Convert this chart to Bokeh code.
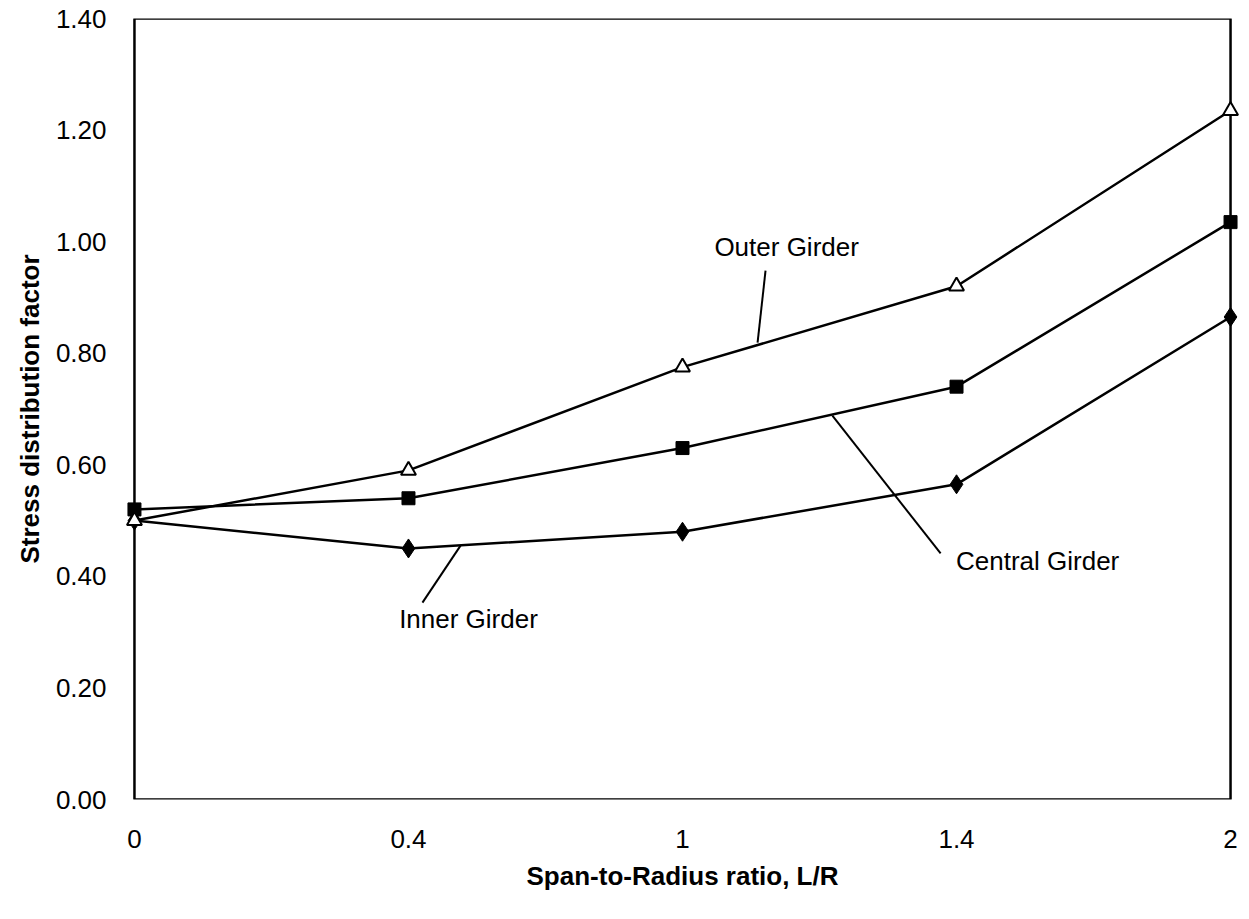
from bokeh.plotting import figure
from bokeh.models import Range1d, FixedTicker, NumeralTickFormatter, ColumnDataSource, Label, BoxAnnotation
from bokeh.embed import file_html
from bokeh.resources import INLINE

# ---- data ----
categories = ["0", "0.4", "1", "1.4", "2"]
outer = [0.50, 0.59, 0.775, 0.92, 1.235]
central = [0.52, 0.54, 0.63, 0.74, 1.035]
inner = [0.50, 0.45, 0.48, 0.565, 0.865]

y_ticks = [0.0, 0.2, 0.4, 0.6, 0.8, 1.0, 1.2, 1.4]

# annotation labels (text, x, y) and leader lines (x0, y0, x1, y1)
ann_text = ["Outer Girder", "Central Girder", "Inner Girder"]
ann_x = [2.38, 3.296, 1.219]
ann_y = [0.990, 0.428, 0.324]
lead_x0 = [2.303, 2.547, 1.190]
lead_y0 = [0.948, 0.688, 0.455]
lead_x1 = [2.274, 2.942, 1.051]
lead_y1 = [0.819, 0.441, 0.353]

FONT = "Liberation Sans"
PAD = 0.04

xs = list(range(len(categories)))

p = figure(frame_width=1118, frame_height=781, output_backend="svg",
           toolbar_location=None, min_border_left=123, min_border_right=0,
           min_border_top=18, min_border_bottom=100,
           x_range=Range1d(-PAD, len(categories) - 1 + PAD), y_range=Range1d(0, 1.4))

p.background_fill_color = "white"
p.border_fill_color = "white"
p.outline_line_color = None
p.xgrid.visible = False
p.ygrid.visible = False

# plot frame drawn at the data limits so edge markers are not clipped
p.add_layout(BoxAnnotation(left=0, right=len(categories) - 1, bottom=0, top=1.4,
                           fill_alpha=0, line_color="black", line_alpha=1.0,
                           line_width=2.5, level="underlay"))

# axes
p.xaxis.ticker = FixedTicker(ticks=xs)
p.xaxis.major_label_overrides = {i: c for i, c in zip(xs, categories)}
p.yaxis.ticker = FixedTicker(ticks=y_ticks)
p.yaxis.formatter = NumeralTickFormatter(format="0.00")
for ax in (p.xaxis, p.yaxis):
    ax.major_tick_line_color = None
    ax.minor_tick_line_color = None
    ax.axis_line_color = None
    ax.major_label_text_font = FONT
    ax.major_label_text_font_size = "26px"
    ax.major_label_text_color = "black"
    ax.axis_label_text_font = FONT
    ax.axis_label_text_font_size = "26px"
    ax.axis_label_text_font_style = "bold"
    ax.axis_label_text_color = "black"
p.xaxis.major_label_standoff = 24
p.yaxis.major_label_standoff = 11
p.xaxis.axis_label = "Span-to-Radius ratio, L/R"
p.yaxis.axis_label = "Stress distribution factor"
p.xaxis.axis_label_standoff = 10
p.yaxis.axis_label_standoff = 8

src = ColumnDataSource(dict(x=xs, outer=outer, central=central, inner=inner))

# lines
for col in ("outer", "central", "inner"):
    p.line("x", col, source=src, line_color="black", line_width=2.5)

# markers
p.scatter("x", "inner", source=src, marker="diamond", size=19,
          fill_color="black", line_color="black")
p.scatter("x", "central", source=src, marker="square", size=13,
          fill_color="black", line_color="black")
p.scatter("x", "outer", source=src, marker="triangle", size=15,
          fill_color="white", line_color="black", line_width=2)

# leader lines & labels
p.segment(x0=lead_x0, y0=lead_y0, x1=lead_x1, y1=lead_y1,
          line_color="black", line_width=2)
for t, x, y in zip(ann_text, ann_x, ann_y):
    p.add_layout(Label(x=x, y=y, text=t, text_font=FONT, text_font_size="26px",
                       text_color="black", text_align="center",
                       text_baseline="middle"))

open("out.html", "w").write(file_html(p, INLINE))
